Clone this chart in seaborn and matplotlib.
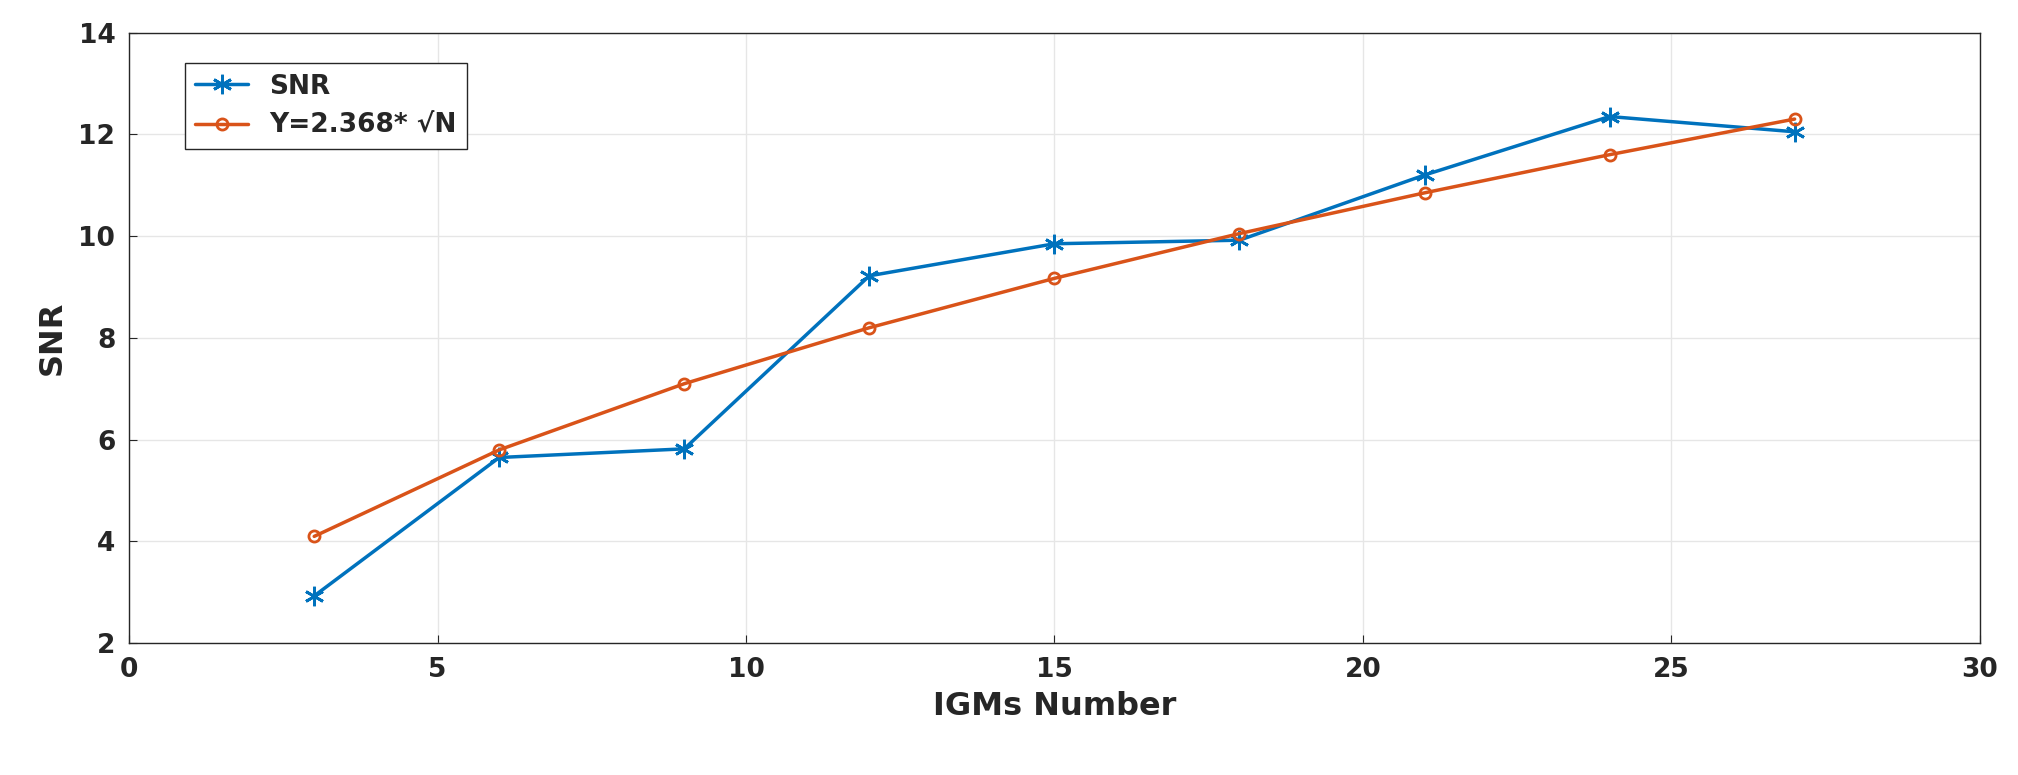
import numpy as np
import pandas as pd
import matplotlib
matplotlib.use("Agg")
import matplotlib.pyplot as plt
import seaborn as sns

# values
igms = [3, 6, 9, 12, 15, 18, 21, 24, 27]
snr = [2.93, 5.65, 5.82, 9.22, 9.85, 9.92, 11.2, 12.35, 12.05]
fit = [4.10, 5.80, 7.10, 8.20, 9.17, 10.05, 10.85, 11.60, 12.30]

sns.set_style("whitegrid")
plt.rcParams['font.family'] = ['DejaVu Sans']

df = pd.DataFrame({"N": igms, "SNR": snr, "fit": fit})

fig = plt.figure(figsize=(20.18, 7.75), dpi=100)
ax = fig.add_axes([0.064, 0.17, 0.917, 0.788])

sns.lineplot(data=df, x="N", y="SNR", ax=ax, color="#0072BD", marker=(6, 2, 0),
             markersize=14, markeredgewidth=2, markeredgecolor="#0072BD",
             linewidth=2.5, label="SNR")
sns.lineplot(data=df, x="N", y="fit", ax=ax, color="#D95319", marker="o",
             markersize=8, markerfacecolor="none", markeredgewidth=2,
             markeredgecolor="#D95319", linewidth=2.5, label="Y=2.368* \u221aN")

ax.set_xlim(0, 30)
ax.set_ylim(2, 14)
ax.set_xticks(range(0, 31, 5))
ax.set_yticks(range(2, 15, 2))
ax.grid(True, color="#e6e6e6", linewidth=1)
for s in ax.spines.values():
    s.set_color("#262626")
    s.set_linewidth(1)
ax.tick_params(labelsize=19, colors="#262626", direction="in", length=6,
               left=True, bottom=True, pad=10)
for lab in ax.get_xticklabels() + ax.get_yticklabels():
    lab.set_fontweight("bold")
ax.set_xlabel("IGMs Number", fontsize=23, fontweight="bold", color="#262626", labelpad=6)
ax.set_ylabel("SNR", fontsize=23, fontweight="bold", color="#262626", labelpad=8)

leg = ax.legend(loc="upper left", bbox_to_anchor=(0.03, 0.95), fontsize=19,
                prop={"weight": "bold", "size": 19}, fancybox=False,
                framealpha=1, edgecolor="#262626", borderaxespad=0)
leg.get_frame().set_linewidth(1)

fig.savefig("out.png", dpi=100)
